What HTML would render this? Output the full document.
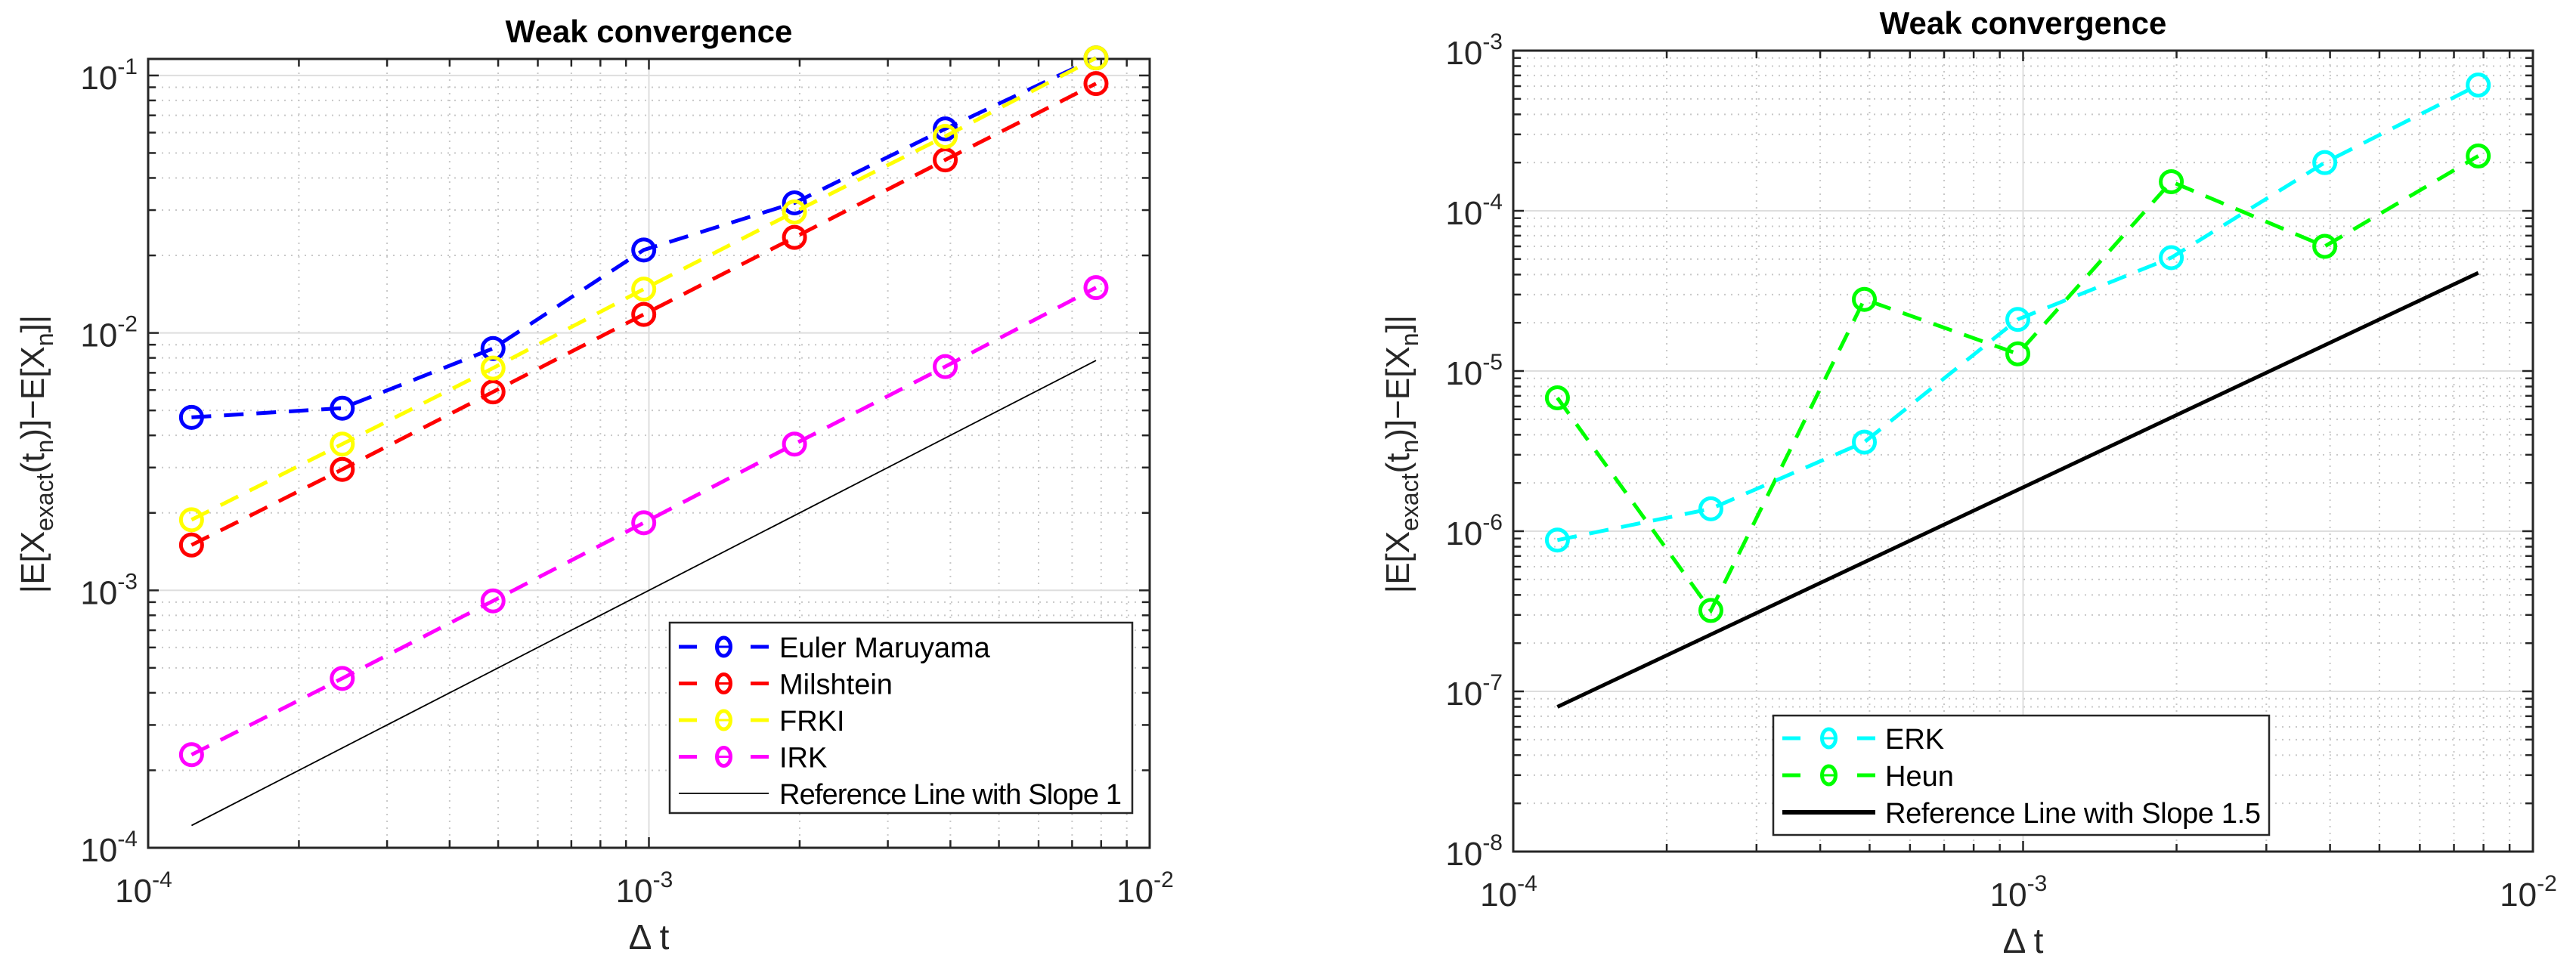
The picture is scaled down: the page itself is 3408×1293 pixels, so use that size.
<!DOCTYPE html>
<html><head><meta charset="utf-8"><style>
body{margin:0;background:#fff;}
svg{display:block;font-family:"Liberation Sans",Arial,sans-serif;}
</style></head><body>
<svg id="fig" width="3408" height="1293" viewBox="0 0 3408 1293" xmlns="http://www.w3.org/2000/svg"></svg>
<script>
// ---- data ----
const dt = [1.2207e-4, 2.4414e-4, 4.8828e-4, 9.7656e-4, 1.9531e-3, 3.9063e-3, 7.8125e-3];
const emVals   = [4.7e-3, 5.1e-3, 8.7e-3, 2.1e-2, 3.2e-2, 6.2e-2, 0.117];
const milVals  = [1.5e-3, 2.95e-3, 5.9e-3, 1.18e-2, 2.35e-2, 4.7e-2, 9.3e-2];
const frkiVals = [1.88e-3, 3.7e-3, 7.3e-3, 1.48e-2, 2.95e-2, 5.8e-2, 0.117];
const irkVals  = [2.3e-4, 4.55e-4, 9.1e-4, 1.83e-3, 3.7e-3, 7.4e-3, 1.5e-2];
const ref1Vals = [1.2207e-4, 7.8125e-3];
const erkVals  = [8.8e-7, 1.38e-6, 3.6e-6, 2.1e-5, 5.1e-5, 2.0e-4, 6.1e-4];
const heunVals = [6.8e-6, 3.2e-7, 2.8e-5, 1.28e-5, 1.52e-4, 6.0e-5, 2.2e-4];
const ref15Vals = [8.0e-8, 4.1e-5];
const ref15X = [1.2207e-4, 7.8125e-3];
const xTickExp = [-4, -3, -2];
const yTickExpL = [-4, -3, -2, -1];
const yTickExpR = [-8, -7, -6, -5, -4, -3];

const NS = "http://www.w3.org/2000/svg";
const fig = document.getElementById('fig');
function el(tag, attrs, parent){const e=document.createElementNS(NS,tag);for(const k in attrs)e.setAttribute(k,attrs[k]);(parent||fig).appendChild(e);return e;}

function makeAxes(o){
  const g = el('g',{});
  
  
  const X = v => o.x0 + (Math.log10(v) - o.xmin) / (o.xmax - o.xmin) * (o.x1 - o.x0);
  const Y = v => o.yb - (Math.log10(v) - o.ymin) * o.dec;
  const ytop = o.yt;
  for(let e=o.xmin;e<o.xmax;e++){for(let m=2;m<=9;m++){const x=X(m*Math.pow(10,e));
    el('line',{x1:x,x2:x,y1:ytop,y2:o.yb,stroke:'#c8c8c8','stroke-width':2,'stroke-dasharray':'2 7'},g);}}
  for(let e=o.ymin;e<o.ymaxE;e++){for(let m=2;m<=9;m++){const y=Y(m*Math.pow(10,e)); if(y<ytop)continue;
    el('line',{x1:o.x0,x2:o.x1,y1:y,y2:y,stroke:'#c8c8c8','stroke-width':2,'stroke-dasharray':'2 7'},g);}}
  for(const e of xTickExp){const x=X(Math.pow(10,e));el('line',{x1:x,x2:x,y1:ytop,y2:o.yb,stroke:'#dedede','stroke-width':2},g);}
  for(const e of o.yticks){const y=Y(Math.pow(10,e));el('line',{x1:o.x0,x2:o.x1,y1:y,y2:y,stroke:'#dedede','stroke-width':2},g);}
  for(let e=o.xmin;e<=o.xmax;e++){for(let m=1;m<=9;m++){if(e==o.xmax&&m>1)break;const x=X(m*Math.pow(10,e));const L=m==1?14:10;
    el('line',{x1:x,x2:x,y1:o.yb,y2:o.yb-L,stroke:'#262626','stroke-width':2.5},g);
    el('line',{x1:x,x2:x,y1:ytop,y2:ytop+L,stroke:'#262626','stroke-width':2.5},g);}}
  for(let e=o.ymin;e<=o.ymaxE;e++){for(let m=1;m<=9;m++){const y=Y(m*Math.pow(10,e));if(y<ytop)break;const L=m==1?14:10;
    el('line',{x1:o.x0,x2:o.x0+L,y1:y,y2:y,stroke:'#262626','stroke-width':2.5},g);
    el('line',{x1:o.x1,x2:o.x1-L,y1:y,y2:y,stroke:'#262626','stroke-width':2.5},g);}}
  el('rect',{x:o.x0,y:ytop,width:o.x1-o.x0,height:o.yb-ytop,fill:'none',stroke:'#262626','stroke-width':3},g);
  for(const e of xTickExp){const x=X(Math.pow(10,e));
    const t=el('text',{x:x-6,y:o.yb+72,'font-size':44,fill:'#262626','text-anchor':'middle'},g);
    
    
    t.innerHTML='10<tspan dy="-20" font-size="30">'+e+'</tspan>';}
  for(const e of o.yticks){const y=Y(Math.pow(10,e));
    const t=el('text',{x:o.x0-14,y:y+18,'font-size':44,fill:'#262626','text-anchor':'end'},g);
    
    
    t.innerHTML='10<tspan dy="-20" font-size="30">'+e+'</tspan>';}
  const ti=el('text',{x:(o.x0+o.x1)/2,y:ytop-22,'font-size':42,'font-weight':'bold','text-anchor':'middle',fill:'#000'},g);
  
  
  ti.textContent='Weak convergence';
  const xl=el('text',{x:(o.x0+o.x1)/2,y:o.yb+134,'font-size':46,'text-anchor':'middle',fill:'#262626'},g);
  
  
  xl.textContent='Δ t';
  const yl=el('text',{x:0,y:0,'font-size':44,'text-anchor':'middle',fill:'#262626',transform:'translate('+o.ylx+','+o.ylc+') rotate(-90)'},g);
  
  
  yl.innerHTML='|E[X<tspan dy="12" font-size="32">exact</tspan><tspan dy="-12">(t</tspan><tspan dy="12" font-size="32">n</tspan><tspan dy="-12">)]−E[X</tspan><tspan dy="12" font-size="32">n</tspan><tspan dy="-12">]|</tspan>';
  return {X,Y,g};
}

function series(ax, xs, ys, color, name, dashed, marker, w){
  const g = el('g',{},ax.g);
  
  
  const pts = xs.map((x,i)=>ax.X(x).toFixed(1)+','+ax.Y(ys[i]).toFixed(1)).join(' ');
  el('polyline',{points:pts,fill:'none',stroke:color,'stroke-width':w,'stroke-dasharray':dashed?'26 17':'none'},g);
  if(marker) xs.forEach((x,i)=>{
    const c=el('circle',{cx:ax.X(x),cy:ax.Y(ys[i]),r:14,fill:'none',stroke:color,'stroke-width':5},g);
    
    
  });
}

function legend(entries, box, name){
  const g = el('g',{});
  
  
  el('rect',{x:box.x,y:box.y,width:box.w,height:box.h,fill:'#fff',stroke:'#262626','stroke-width':2.5},g);
  entries.forEach((en,i)=>{
    const y = box.r0 + i*box.dr;
    const eg = el('g',{},g);
    
    
    if(en.marker){
      el('line',{x1:box.lx0,x2:box.lx0+24,y1:y,y2:y,stroke:en.color,'stroke-width':5},eg);
      el('line',{x1:box.lx1-24,x2:box.lx1,y1:y,y2:y,stroke:en.color,'stroke-width':5},eg);
      el('ellipse',{cx:(box.lx0+box.lx1)/2,cy:y,rx:9,ry:12,fill:'none',stroke:en.color,'stroke-width':5},eg);
      el('line',{x1:(box.lx0+box.lx1)/2-8,x2:(box.lx0+box.lx1)/2+8,y1:y,y2:y,stroke:en.color,'stroke-width':3},eg);
    } else {
      el('line',{x1:box.lx0,x2:box.lx1,y1:y,y2:y,stroke:'#000','stroke-width':en.w},eg);
    }
    const t=el('text',{x:box.tx,y:y+14,'font-size':38,fill:'#000'},eg);
    if(en.tl) t.setAttribute('textLength',en.tl);
    t.textContent=en.label;
  });
}

const A = makeAxes({name:'left-chart',x0:196,x1:1521,xmin:-4,xmax:-2,yb:1122,yt:78,ymin:-4,ymaxE:-1,dec:340.7,yticks:yTickExpL,ylx:58,ylc:601});
series(A, ref1Vals.map(v=>v), ref1Vals, '#000', 'reference-line-slope-1', false, false, 1.8);
series(A, dt, irkVals, '#ff00ff', 'irk-series', true, true, 5);
series(A, dt, milVals, '#ff0000', 'milshtein-series', true, true, 5);
series(A, dt, emVals, '#0000ff', 'euler-maruyama-series', true, true, 5);
series(A, dt, frkiVals, '#ffff00', 'frki-series', true, true, 5);
legend([
  {label:'Euler Maruyama',color:'#0000ff',marker:true},
  {label:'Milshtein',color:'#ff0000',marker:true},
  {label:'FRKI',color:'#ffff00',marker:true},
  {label:'IRK',color:'#ff00ff',marker:true},
  {label:'Reference Line with Slope 1',marker:false,w:1.8,tl:453}
],{x:886,y:824,w:612,h:252,r0:856,dr:48.5,lx0:898,lx1:1017,tx:1031},'left-legend');

const B = makeAxes({name:'right-chart',x0:2002,x1:3351,xmin:-4,xmax:-2,yb:1127,yt:67,ymin:-8,ymaxE:-3,dec:212,yticks:yTickExpR,ylx:1864,ylc:601});
series(B, ref15X, ref15Vals, '#000', 'reference-line-slope-1-5', false, false, 5);
series(B, dt, heunVals, '#00ff00', 'heun-series', true, true, 5);
series(B, dt, erkVals, '#00ffff', 'erk-series', true, true, 5);
legend([
  {label:'ERK',color:'#00ffff',marker:true},
  {label:'Heun',color:'#00ff00',marker:true},
  {label:'Reference Line with Slope 1.5',marker:false,w:6,tl:497}
],{x:2346,y:947,w:656,h:158,r0:977,dr:49,lx0:2358,lx1:2481,tx:2494},'right-legend');
</script>
</body></html>
